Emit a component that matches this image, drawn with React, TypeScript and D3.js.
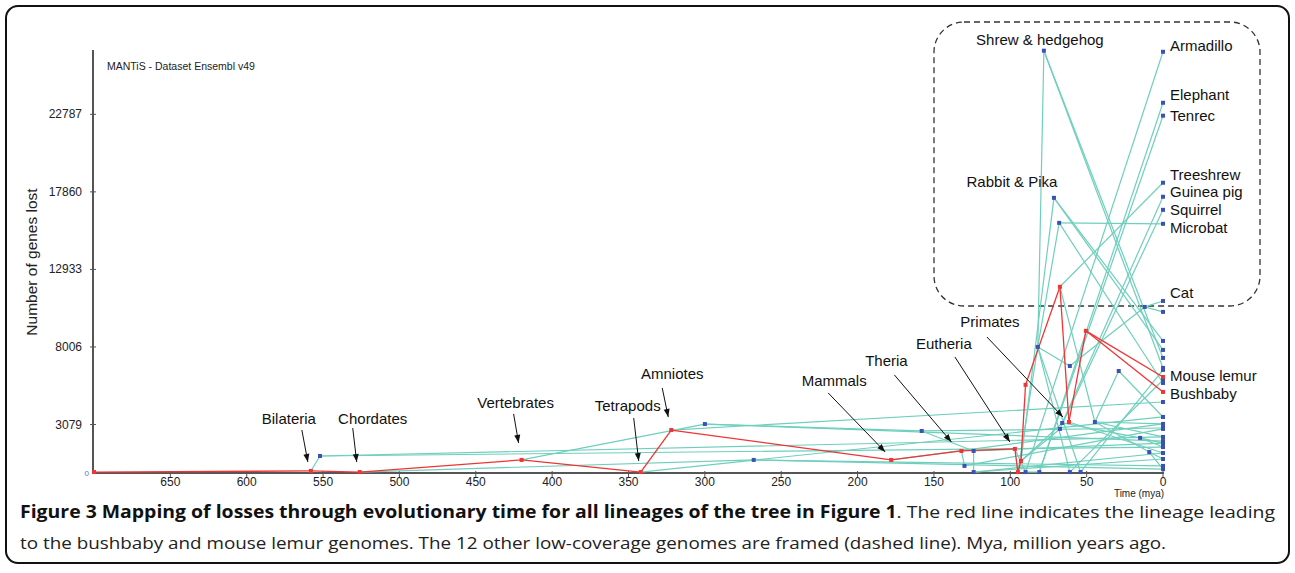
import React, { useEffect, useRef } from 'react'
import * as d3 from 'd3'

// lineage tree: [id, time (mya), genes lost, parent]
const redNodes: [string, number, number, string | null][] = [
  ['root', 700, 60, null],
  ['bil', 558, 130, 'root'],
  ['cho', 526, 60, 'bil'],
  ['ver', 420, 830, 'cho'],
  ['tet', 342, 60, 'ver'],
  ['amn', 322, 2730, 'tet'],
  ['mam', 178, 830, 'amn'],
  ['the', 132, 1400, 'mam'],
  ['eut', 97, 1530, 'the'],
  ['bor', 95, 60, 'eut'],
  ['eua', 93, 760, 'bor'],
  ['euo', 90, 5600, 'eua'],
  ['pri', 67.5, 11830, 'euo'],
  ['prs', 61.6, 3240, 'pri'],
  ['lem', 50.5, 9030, 'prs'],
  ['mlemur', 0, 6100, 'lem'],
  ['bushbaby', 0, 5150, 'lem']
]

const otherNodes: [string, number, number, string][] = [
  ['pro', 552, 1080, 'bil'],
  ['fly', 0, 1650, 'pro'],
  ['worm', 0, 2290, 'pro'],
  ['cio', 268, 830, 'cho'],
  ['cint', 0, 250, 'cio'],
  ['csav', 0, 450, 'cio'],
  ['fish', 300, 3110, 'ver'],
  ['zfish', 0, 2030, 'fish'],
  ['acan', 158, 2670, 'fish'],
  ['medaka', 0, 2860, 'acan'],
  ['smeg', 124, 1400, 'acan'],
  ['stick', 0, 1900, 'smeg'],
  ['tetn', 124, 60, 'smeg'],
  ['fugu', 0, 1270, 'tetn'],
  ['tetraodon', 0, 890, 'tetn'],
  ['xen', 0, 3560, 'tet'],
  ['chick', 0, 4510, 'amn'],
  ['plat', 0, 3115, 'mam'],
  ['mar', 130, 450, 'the'],
  ['opo', 0, 2800, 'mar'],
  ['atl', 90, 60, 'eut'],
  ['armadillo', 0, 26760, 'atl'],
  ['afro', 81, 60, 'atl'],
  ['elephant', 0, 23520, 'afro'],
  ['tenrec', 0, 22700, 'afro'],
  ['lau', 82, 8010, 'bor'],
  ['ins', 78, 26830, 'lau'],
  ['shrew', 0, 6675, 'ins'],
  ['hedgehog', 0, 7310, 'ins'],
  ['chi', 68, 15890, 'lau'],
  ['microbat', 0, 15830, 'chi'],
  ['megabat', 0, 5720, 'chi'],
  ['fer', 61, 6800, 'lau'],
  ['car', 12, 10550, 'fer'],
  ['cat', 0, 10930, 'car'],
  ['dog', 0, 10235, 'car'],
  ['ung', 54, 60, 'lau'],
  ['cow', 0, 6550, 'ung'],
  ['hrs', 61, 60, 'lau'],
  ['horse', 0, 5910, 'hrs'],
  ['rp', 71.4, 17480, 'eua'],
  ['rabbit', 0, 8390, 'rp'],
  ['pika', 0, 7820, 'rp'],
  ['rod', 66, 3180, 'eua'],
  ['guinea', 0, 17550, 'rod'],
  ['sci', 67.5, 2800, 'eua'],
  ['squirrel', 0, 16720, 'sci'],
  ['mur', 15, 2230, 'rod'],
  ['mouse', 0, 1650, 'mur'],
  ['rat', 0, 1900, 'mur'],
  ['treeshrew', 0, 18440, 'pri'],
  ['ant', 44.6, 3240, 'pri'],
  ['cer', 29, 6480, 'ant'],
  ['macaque', 0, 3560, 'cer'],
  ['hom', 9, 1330, 'ant'],
  ['human', 0, 250, 'hom'],
  ['chimp', 0, 890, 'hom'],
  ['orang', 0, 2290, 'ant'],
  ['marmoset', 0, 3115, 'ant'],
  ['tarsier', 0, 1270, 'prs']
]

const xTicks = [650, 600, 550, 500, 450, 400, 350, 300, 250, 200, 150, 100, 50, 0]
const yTicks = [3079, 8006, 12933, 17860, 22787]

// species / clade names written next to their nodes
const speciesNames: [string, string][] = [
  ['armadillo', 'Armadillo'],
  ['elephant', 'Elephant'],
  ['tenrec', 'Tenrec'],
  ['treeshrew', 'Treeshrew'],
  ['guinea', 'Guinea pig'],
  ['squirrel', 'Squirrel'],
  ['microbat', 'Microbat'],
  ['cat', 'Cat'],
  ['mlemur', 'Mouse lemur'],
  ['bushbaby', 'Bushbaby']
]
const speciesDy = [-1, -3, 5, -3, 0, 5, 9, -3, 4, 7]

const cladeNames: [string, string][] = [
  ['bil', 'Bilateria'],
  ['cho', 'Chordates'],
  ['ver', 'Vertebrates'],
  ['tet', 'Tetrapods'],
  ['amn', 'Amniotes'],
  ['mam', 'Mammals'],
  ['the', 'Theria'],
  ['eut', 'Eutheria'],
  ['prs', 'Primates']
]
// label / arrow tail / arrow head offsets in px from the node
const cladeLayout = [
  [-22, -47, -9, -41, -3, -9],
  [13, -48, -7, -44, -3, -10],
  [-6, -52, -8, -46, -3, -17],
  [-13, -61, -7, -54, -2, -11],
  [1, -51, -9, -42, -3, -13],
  [-57, -74, -63, -67, -6, -8],
  [-75, -85, -67, -76, -10, -9],
  [-71, -100, -60, -92, -5, -7],
  [-79, -95, -82, -85, -6, -5]
]

const W = 1295
const H = 573
const FONT = '"Liberation Sans", Arial, sans-serif'

const App: React.FC = () => {
  const ref = useRef<SVGSVGElement | null>(null)

  useEffect(() => {
    if (!ref.current) return
    const svg = d3.select(ref.current)
    svg.selectAll('*').remove()

    const x = d3.scaleLinear().domain([700, 0]).range([94, 1163])
    const y = d3.scaleLinear().domain([0, 27000]).range([473, 48])

    const nodes = new Map<string, { t: number; v: number; parent: string | null; red: boolean }>()
    redNodes.forEach(([id, t, v, p]) => nodes.set(id, { t, v, parent: p, red: true }))
    otherNodes.forEach(([id, t, v, p]) => nodes.set(id, { t, v, parent: p, red: false }))
    const px = (id: string) => x(nodes.get(id)!.t)
    const py = (id: string) => y(nodes.get(id)!.v)

    // outer frame
    svg
      .append('rect')
      .attr('x', 6)
      .attr('y', 6)
      .attr('width', 1283)
      .attr('height', 557)
      .attr('rx', 12)
      .attr('fill', 'white')
      .attr('stroke', '#111')
      .attr('stroke-width', 2)

    // dashed frame around the low-coverage genomes
    svg
      .append('rect')
      .attr('x', 934)
      .attr('y', 22)
      .attr('width', 326)
      .attr('height', 284)
      .attr('rx', 30)
      .attr('fill', 'none')
      .attr('stroke', '#333')
      .attr('stroke-width', 1.3)
      .attr('stroke-dasharray', '6,4')

    // axes
    const axis = svg.append('g').attr('stroke', '#555')
    axis.append('line').attr('x1', 93).attr('x2', 93).attr('y1', 50).attr('y2', 473).attr('stroke-width', 2)
    axis.append('line').attr('x1', 93).attr('x2', 1164).attr('y1', 473).attr('y2', 473).attr('stroke-width', 2)
    xTicks.forEach((t) => {
      axis.append('line').attr('x1', x(t)).attr('x2', x(t)).attr('y1', 471).attr('y2', 477).attr('stroke-width', 1)
    })
    yTicks.forEach((v) => {
      axis.append('line').attr('x1', 90).attr('x2', 96).attr('y1', y(v)).attr('y2', y(v)).attr('stroke-width', 1)
    })

    const labels = svg.append('g').attr('font-family', FONT).attr('fill', '#222')
    xTicks.forEach((t) => {
      labels
        .append('text')
        .attr('x', x(t))
        .attr('y', 486)
        .attr('text-anchor', 'middle')
        .attr('font-size', 12)
        .text(t)
    })
    yTicks.forEach((v) => {
      labels
        .append('text')
        .attr('x', 82)
        .attr('y', y(v) + 4)
        .attr('text-anchor', 'end')
        .attr('font-size', 12)
        .text(v)
    })
    labels
      .append('text')
      .attr('x', 89)
      .attr('y', 476)
      .attr('text-anchor', 'end')
      .attr('font-size', 8)
      .attr('fill', '#5577cc')
      .text('0')
    labels
      .append('text')
      .attr('x', 1139)
      .attr('y', 497)
      .attr('text-anchor', 'middle')
      .attr('font-size', 10)
      .text('Time (mya)')
    labels
      .append('text')
      .attr('transform', 'translate(37,262) rotate(-90)')
      .attr('text-anchor', 'middle')
      .attr('font-size', 15.5)
      .text('Number of genes lost')
    labels
      .append('text')
      .attr('x', 107)
      .attr('y', 70)
      .attr('font-size', 10.5)
      .text('MANTiS - Dataset Ensembl v49')

    // lineage edges
    const edges = Array.from(nodes.entries()).filter(([, n]) => n.parent !== null)
    const plot = svg.append('g')
    plot
      .selectAll('line.teal')
      .data(edges.filter(([, n]) => !(n.red && nodes.get(n.parent!)!.red)))
      .enter()
      .append('line')
      .attr('x1', ([, n]) => px(n.parent!))
      .attr('y1', ([, n]) => py(n.parent!))
      .attr('x2', ([id]) => px(id))
      .attr('y2', ([id]) => py(id))
      .attr('stroke', '#6fcfbd')
      .attr('stroke-width', 1.2)
    plot
      .selectAll('line.red')
      .data(edges.filter(([, n]) => n.red && nodes.get(n.parent!)!.red))
      .enter()
      .append('line')
      .attr('x1', ([, n]) => px(n.parent!))
      .attr('y1', ([, n]) => py(n.parent!))
      .attr('x2', ([id]) => px(id))
      .attr('y2', ([id]) => py(id))
      .attr('stroke', '#f03434')
      .attr('stroke-width', 1.3)

    const all = Array.from(nodes.entries())
    plot
      .selectAll('rect.node')
      .data([...all.filter(([, n]) => !n.red), ...all.filter(([, n]) => n.red)])
      .enter()
      .append('rect')
      .attr('x', ([id]) => px(id) - 2)
      .attr('y', ([id]) => py(id) - 2)
      .attr('width', 4)
      .attr('height', 4)
      .attr('fill', ([, n]) => (n.red ? '#f03434' : '#3b52b4'))

    // species names
    const ann = svg.append('g').attr('font-family', FONT).attr('font-size', 15).attr('fill', '#111')
    speciesNames.forEach(([id, name], i) => {
      ann
        .append('text')
        .attr('x', px(id) + 7)
        .attr('y', py(id) + speciesDy[i])
        .text(name)
    })
    ann
      .append('text')
      .attr('x', px('ins') - 4)
      .attr('y', py('ins') - 6)
      .attr('text-anchor', 'middle')
      .text('Shrew & hedgehog')
    ann
      .append('text')
      .attr('x', px('rp') - 42)
      .attr('y', py('rp') - 11)
      .attr('text-anchor', 'middle')
      .text('Rabbit & Pika')

    // clade names with arrows
    const arrowHead = (x1: number, y1: number, x2: number, y2: number) => {
      const a = Math.atan2(y2 - y1, x2 - x1)
      const len = 8
      const w = 3
      const bx = x2 - len * Math.cos(a)
      const by = y2 - len * Math.sin(a)
      return `M${x2},${y2}L${bx + w * Math.sin(a)},${by - w * Math.cos(a)}L${bx - w * Math.sin(a)},${by + w * Math.cos(a)}Z`
    }
    cladeNames.forEach(([id, name], i) => {
      const [lx, ly, tx, ty, hx, hy] = cladeLayout[i]
      const nx = px(id)
      const ny = py(id)
      ann
        .append('text')
        .attr('x', nx + lx)
        .attr('y', ny + ly)
        .attr('text-anchor', 'middle')
        .text(name)
      ann
        .append('line')
        .attr('x1', nx + tx)
        .attr('y1', ny + ty)
        .attr('x2', nx + hx)
        .attr('y2', ny + hy)
        .attr('stroke', '#111')
        .attr('stroke-width', 1)
      ann.append('path').attr('d', arrowHead(nx + tx, ny + ty, nx + hx, ny + hy)).attr('fill', '#111')
    })

    // caption
    const cap = svg
      .append('g')
      .attr('font-family', '"Open Sans", "Noto Sans", sans-serif')
      .attr('font-size', 17)
      .attr('fill', '#222')
    const line1 = cap
      .append('text')
      .attr('x', 20)
      .attr('y', 518)
      .attr('textLength', 1255)
      .attr('lengthAdjust', 'spacingAndGlyphs')
    line1
      .append('tspan')
      .attr('font-weight', 'bold')
      .attr('fill', '#111')
      .text('Figure 3 Mapping of losses through evolutionary time for all lineages of the tree in Figure 1')
    line1.append('tspan').text('. The red line indicates the lineage leading')
    cap
      .append('text')
      .attr('x', 20)
      .attr('y', 549)
      .attr('textLength', 1146)
      .attr('lengthAdjust', 'spacingAndGlyphs')
      .text('to the bushbaby and mouse lemur genomes. The 12 other low-coverage genomes are framed (dashed line). Mya, million years ago.')
  }, [])

  return (
    <div style={{ position: 'absolute', left: 0, top: 0, background: 'white' }}>
      <svg ref={ref} width={W} height={H} viewBox={`0 0 ${W} ${H}`} style={{ display: 'block' }} />
    </div>
  )
}

export default App
